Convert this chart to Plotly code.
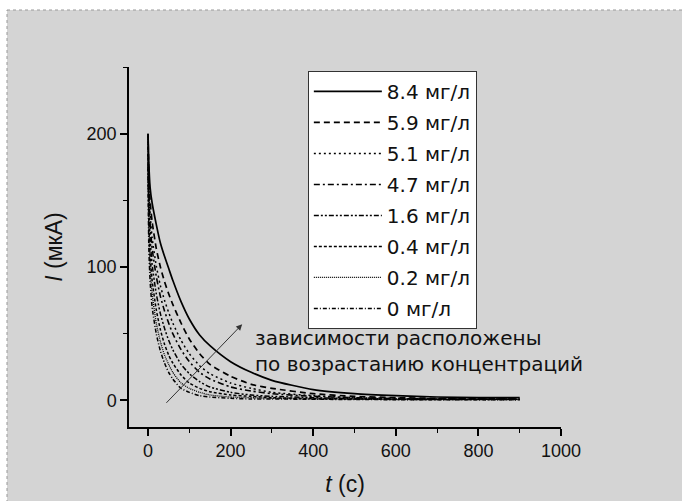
import plotly.graph_objects as go

# time grid (s)
t = [0, 2, 5, 10, 20, 30, 40, 50, 60, 80, 100, 125, 150, 200, 250, 300, 400, 500, 600, 700, 800, 900]

labels = ["8.4 мг/л", "5.9 мг/л", "5.1 мг/л", "4.7 мг/л", "1.6 мг/л", "0.4 мг/л", "0.2 мг/л", "0 мг/л"]

i_84 = [200, 178, 160, 148, 132, 118, 108, 99, 90, 74, 61, 49, 41, 29, 21, 15, 8, 5, 3.5, 2.5, 2, 2]
i_59 = [200, 170, 150, 134, 114, 100, 89, 80, 72, 58, 46, 35, 27, 18, 12, 9, 5, 3, 2, 1.5, 1.5, 1.5]
i_51 = [198, 160, 140, 122, 101, 86, 75, 66, 58, 45, 35, 26, 20, 13, 9, 6, 3.5, 2, 1.5, 1.2, 1, 1]
i_47 = [196, 155, 133, 114, 93, 78, 67, 58, 50, 38, 29, 21, 16, 10, 7, 5, 3, 2, 1.3, 1, 1, 1]
i_16 = [190, 145, 122, 102, 80, 65, 54, 45, 38, 27, 20, 14, 10, 6, 4, 3, 2, 1.3, 1, 0.8, 0.8, 0.8]
i_04 = [185, 135, 110, 90, 68, 53, 42, 34, 28, 19, 13, 9, 6.5, 4, 3, 2, 1.3, 1, 0.8, 0.6, 0.6, 0.6]
i_02 = [180, 125, 100, 80, 58, 44, 34, 27, 21, 13, 9, 6, 4, 2.5, 2, 1.5, 1, 0.8, 0.6, 0.5, 0.5, 0.5]
i_00 = [175, 115, 90, 70, 50, 37, 28, 21, 16, 9, 6, 3.5, 2.5, 1.5, 1, 1, 0.8, 0.6, 0.5, 0.5, 0.5, 0.5]

series = [i_84, i_59, i_51, i_47, i_16, i_04, i_02, i_00]
dashes = ["solid", "6px,4px", "2px,3px", "6px,3px,2px,3px", "5px,2px,2px,2px,2px,2px",
          "3px,2px", "1px,1px", "4px,2px,1px,2px"]
widths = [1.7, 1.7, 1.5, 1.6, 1.5, 1.5, 1.3, 1.5]

arrow_tail = (41, -3)
arrow_head = (228, 57)

BG = "#d4d4d4"
FONT = "Liberation Sans, Arial, sans-serif"

W, H = 682, 501
ML, MT, PW, PH = 129, 67, 432, 360
FRAME_X, FRAME_Y = 7, 10   # white strip + dotted frame at top-left


def px_x(p):
    return (p - ML) / PW


def px_y(p):
    return (MT + PH - p) / PH


fig = go.Figure()
for i, (lab, y) in enumerate(zip(labels, series)):
    fig.add_trace(go.Scatter(
        x=t, y=y, mode="lines", name=lab, legendgroup=f"g{i}",
        line=dict(color="black", width=widths[i], dash=dashes[i], shape="spline", smoothing=0.6),
    ))

fig.add_annotation(
    x=arrow_head[0], y=arrow_head[1], ax=arrow_tail[0], ay=arrow_tail[1],
    xref="x", yref="y", axref="x", ayref="y",
    showarrow=True, arrowhead=2, arrowsize=1.2, arrowwidth=1, arrowcolor="#333333", text="",
)
fig.add_annotation(
    x=0.287, y=0.2125, xref="paper", yref="paper", xanchor="left", yanchor="middle",
    align="left", showarrow=False,
    text="зависимости расположены<br>по возрастанию концентраций",
    font=dict(family="DejaVu Sans, sans-serif", size=20, color="#111111"),
)

# white strip and dotted frame at the top-left of the picture
fig.add_shape(type="rect", xref="paper", yref="paper",
              x0=px_x(-2), x1=px_x(W + 2), y0=px_y(FRAME_Y), y1=px_y(-2),
              fillcolor="white", line_width=0, layer="below")
fig.add_shape(type="rect", xref="paper", yref="paper",
              x0=px_x(-2), x1=px_x(FRAME_X), y0=px_y(H + 2), y1=px_y(-2),
              fillcolor="white", line_width=0, layer="below")
fig.add_shape(type="line", xref="paper", yref="paper",
              x0=px_x(FRAME_X), x1=px_x(W + 2), y0=px_y(FRAME_Y), y1=px_y(FRAME_Y),
              line=dict(color="#999999", width=1, dash="dot"))
fig.add_shape(type="line", xref="paper", yref="paper",
              x0=px_x(FRAME_X), x1=px_x(FRAME_X), y0=px_y(H + 2), y1=px_y(FRAME_Y),
              line=dict(color="#999999", width=1, dash="dot"))

axis_common = dict(
    showline=True, linecolor="black", linewidth=1.5, mirror=False,
    ticks="outside", ticklen=7, tickwidth=1.5, tickcolor="black",
    showgrid=False, zeroline=False,
    tickfont=dict(family=FONT, size=18, color="#111111"),
)

fig.update_xaxes(
    range=[-46, 1000], dtick=200, tick0=0,
    minor=dict(dtick=100, ticklen=4, tickwidth=1.2, tickcolor="black", ticks="outside", showgrid=False),
    title=dict(text="<i>t</i> (c)", font=dict(family=FONT, size=23, color="#111111"), standoff=16),
    **axis_common,
)
fig.update_yaxes(
    range=[-20, 250], dtick=100, tick0=0,
    minor=dict(dtick=50, ticklen=4, tickwidth=1.2, tickcolor="black", ticks="outside", showgrid=False),
    title=dict(text="<i>I</i> (мкА)", font=dict(family=FONT, size=23, color="#111111"), standoff=18),
    **axis_common,
)

fig.update_layout(
    width=W, height=H,
    margin=dict(l=ML, r=W - ML - PW, t=MT, b=H - MT - PH, autoexpand=False),
    paper_bgcolor=BG, plot_bgcolor=BG,
    showlegend=True,
    legend=dict(
        x=0.414, y=0.989, xanchor="left", yanchor="top",
        bgcolor="white", bordercolor="#333333", borderwidth=1,
        font=dict(family="DejaVu Sans, sans-serif", size=20, color="#111111"),
        tracegroupgap=2, itemwidth=68,
    ),
)

fig.write_html(
    "out.html",
    config={"displayModeBar": False},
    post_script=("document.body.style.margin='0';"
                 "document.documentElement.style.overflow='hidden';"
                 "document.body.style.overflow='hidden';"),
)
